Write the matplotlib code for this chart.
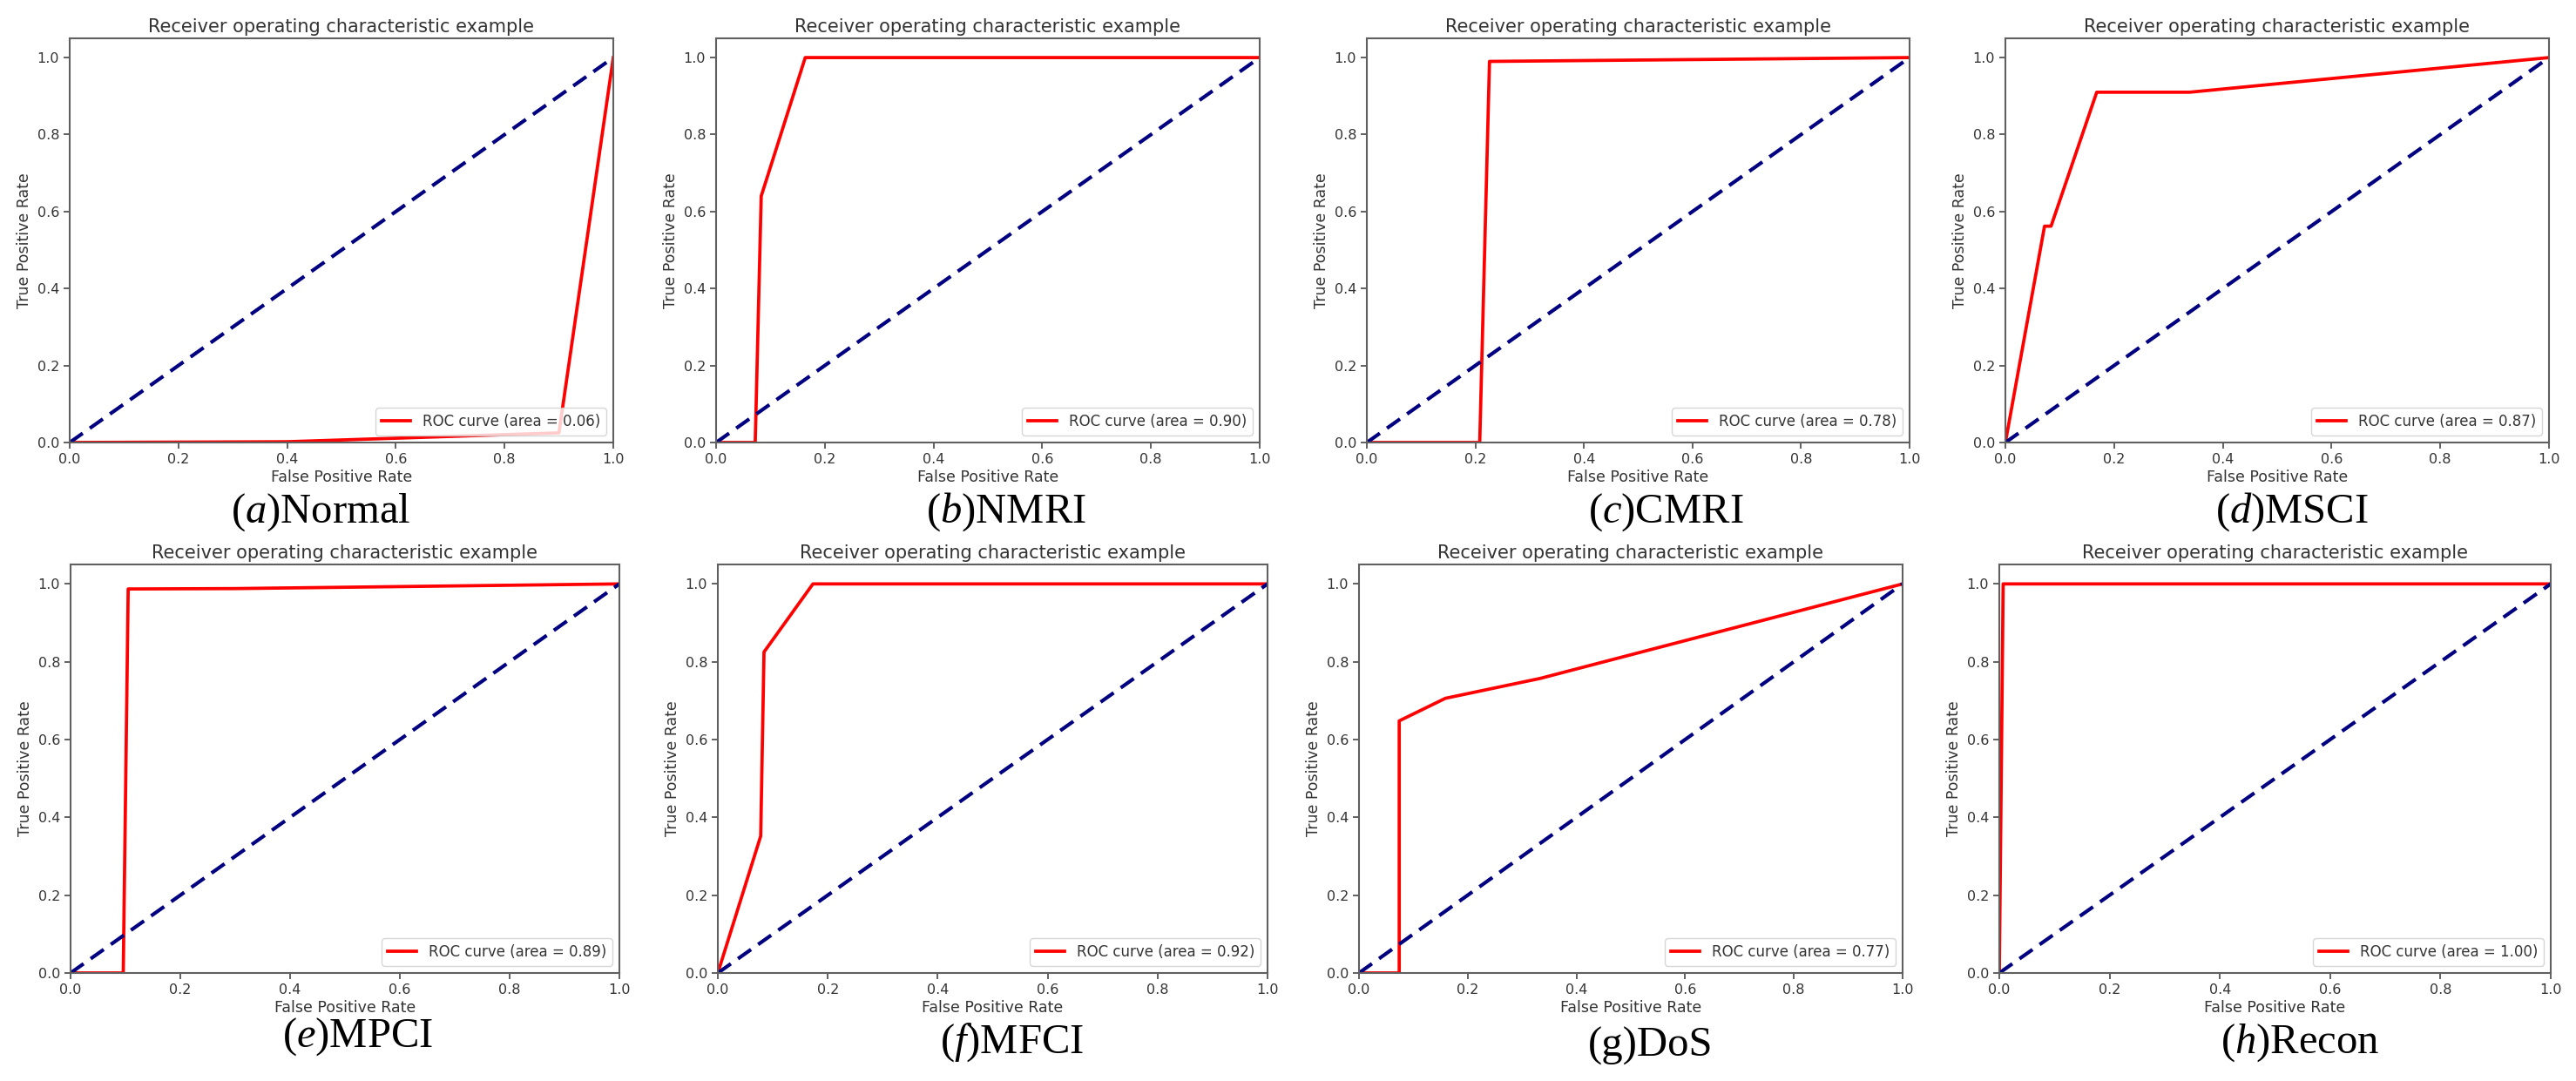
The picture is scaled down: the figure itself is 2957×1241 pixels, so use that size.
import numpy as np
import matplotlib
matplotlib.use("Agg")
import matplotlib.pyplot as plt

# ---- data ----
panel_tags = ["a", "b", "c", "d", "e", "f", "g", "h"]
panel_names = ["Normal", "NMRI", "CMRI", "MSCI", "MPCI", "MFCI", "DoS", "Recon"]
italic_tag = [True, True, True, True, True, True, False, True]
auc_values = [0.06, 0.90, 0.78, 0.87, 0.89, 0.92, 0.77, 1.00]

fpr_normal = [0.0, 0.40, 0.90, 1.0]
tpr_normal = [0.0, 0.002, 0.025, 1.0]
fpr_nmri = [0.0, 0.072, 0.083, 0.164, 1.0]
tpr_nmri = [0.0, 0.0, 0.64, 1.0, 1.0]
fpr_cmri = [0.0, 0.208, 0.226, 1.0]
tpr_cmri = [0.0, 0.0, 0.99, 1.0]
fpr_msci = [0.0, 0.072, 0.084, 0.168, 0.339, 1.0]
tpr_msci = [0.0, 0.562, 0.562, 0.91, 0.91, 1.0]
fpr_mpci = [0.0, 0.096, 0.105, 0.30, 1.0]
tpr_mpci = [0.0, 0.0, 0.987, 0.988, 1.0]
fpr_mfci = [0.0, 0.078, 0.084, 0.173, 1.0]
tpr_mfci = [0.0, 0.352, 0.825, 1.0, 1.0]
fpr_dos = [0.0, 0.074, 0.074, 0.159, 0.333, 1.0]
tpr_dos = [0.0, 0.0, 0.648, 0.706, 0.757, 1.0]
fpr_recon = [0.0, 0.007, 1.0]
tpr_recon = [0.0, 1.0, 1.0]

fprs = [fpr_normal, fpr_nmri, fpr_cmri, fpr_msci, fpr_mpci, fpr_mfci, fpr_dos, fpr_recon]
tprs = [tpr_normal, tpr_nmri, tpr_cmri, tpr_msci, tpr_mpci, tpr_mfci, tpr_dos, tpr_recon]

# ---- layout (pixels in the 2957x1241 canvas) ----
W, H = 2957, 1241
# left, top, right, bottom of each axes box
boxes = [
    (80, 44, 704, 508), (822, 44, 1446, 508), (1569, 44, 2192, 508), (2302, 44, 2926, 508),
    (81, 648, 711, 1117), (824, 648, 1455, 1117), (1560, 648, 2184, 1117), (2295, 648, 2928, 1117),
]
# caption centres
caption_xy = [(368, 588), (1155, 588), (1912, 588), (2631, 588),
              (411, 1190), (1162, 1197), (1895, 1201), (2640, 1197)]

plt.rcParams["mathtext.fontset"] = "custom"
plt.rcParams["mathtext.rm"] = "Liberation Serif"
plt.rcParams["mathtext.it"] = "Liberation Serif:italic"

fig = plt.figure(figsize=(W / 100, H / 100), dpi=100)
fig.patch.set_facecolor("white")

text_col = "#333333"

for i in range(8):
    l, t, r, b = boxes[i]
    ax = fig.add_axes([l / W, (H - b) / H, (r - l) / W, (b - t) / H])
    ax.plot(fprs[i], tprs[i], color="red", lw=2.7,
            label="ROC curve (area = %0.2f)" % auc_values[i])
    ax.plot([0, 1], [0, 1], color="navy", lw=3.0, linestyle="--", dashes=(4.4, 2.4))
    ax.set_xlim(0.0, 1.0)
    ax.set_ylim(0.0, 1.05)
    ax.set_xticks(np.arange(0, 1.01, 0.2))
    ax.set_yticks(np.arange(0, 1.01, 0.2))
    ax.tick_params(labelsize=11.5, colors="#555555", labelcolor=text_col, width=1.3, length=5)
    for sp in ax.spines.values():
        sp.set_color("#606060")
        sp.set_linewidth(1.5)
    ax.set_xlabel("False Positive Rate", fontsize=12.5, color=text_col, labelpad=3)
    ax.set_ylabel("True Positive Rate", fontsize=12.5, color=text_col)
    ax.set_title("Receiver operating characteristic example", fontsize=15,
                 color=text_col, pad=5)
    leg = ax.legend(loc="lower right", fontsize=12)
    for txt in leg.get_texts():
        txt.set_color(text_col)

    tag = r"$\mathit{%s}$" % panel_tags[i] if italic_tag[i] else panel_tags[i]
    cx, cy = caption_xy[i]
    fig.text(cx / W, (H - cy) / H, "(" + tag + ")" + panel_names[i],
             fontsize=35, family="Liberation Serif", ha="center", va="center")

fig.savefig("out.png", dpi=100, facecolor="white")
